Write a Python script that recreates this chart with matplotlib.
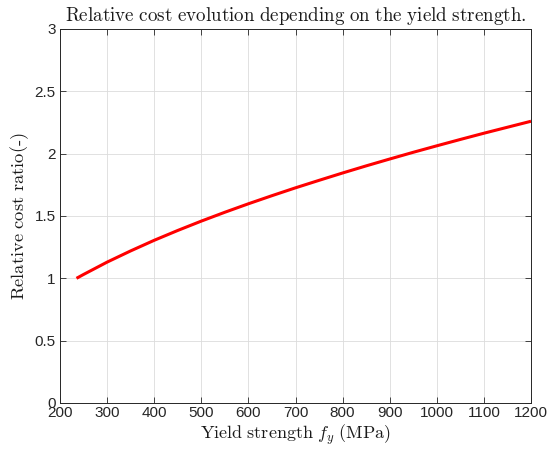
import matplotlib
matplotlib.use("Agg")
import matplotlib.pyplot as plt

# Yield strength (MPa) and relative cost ratio (-)
fy = [235, 250, 300, 350, 400, 450, 500, 550, 600, 650, 700, 750,
      800, 850, 900, 950, 1000, 1050, 1100, 1150, 1200]
cost_ratio = [1.000, 1.031, 1.130, 1.220, 1.305, 1.384, 1.459, 1.530,
              1.598, 1.663, 1.726, 1.786, 1.845, 1.902, 1.957, 2.011,
              2.063, 2.114, 2.164, 2.212, 2.260]

x_ticks = list(range(200, 1201, 100))
y_ticks = [0, 0.5, 1, 1.5, 2, 2.5, 3]
y_tick_labels = ["0", "0.5", "1", "1.5", "2", "2.5", "3"]

plt.rcParams["font.family"] = ["Liberation Sans", "DejaVu Sans"]
plt.rcParams["mathtext.fontset"] = "cm"

fig = plt.figure(figsize=(5.47, 4.53), dpi=100)
ax = fig.add_axes([0.1097, 0.1104, 0.8611, 0.8256])

ax.plot(fy, cost_ratio, color="#ff0000", lw=2.2, solid_capstyle="butt")

ax.set_xlim(200, 1200)
ax.set_ylim(0, 3)
ax.set_xticks(x_ticks)
ax.set_yticks(y_ticks)
ax.set_yticklabels(y_tick_labels)
ax.tick_params(direction="in", length=4, width=0.6, labelsize=11,
               colors="#262626", top=True, right=True, pad=3)
ax.tick_params(axis="x", pad=2)
ax.grid(True, color="#dcdcdc", lw=0.6)
ax.set_axisbelow(True)
for s in ax.spines.values():
    s.set_color("#262626")
    s.set_linewidth(0.7)

ax.set_title(r"$\mathrm{Relative\ cost\ evolution\ depending\ on\ the\ yield\ strength.}$",
             fontsize=13.7, color="#1a1a1a", pad=6)
ax.set_xlabel(r"$\mathrm{Yield\ strength\ }f_y\ \mathrm{(MPa)}$",
              fontsize=13, color="#1a1a1a", labelpad=2)
ax.set_ylabel(r"$\mathrm{Relative\ cost\ ratio(\text{-})}$",
              fontsize=13.3, color="#1a1a1a", labelpad=3)

fig.savefig("out.png", dpi=100)
